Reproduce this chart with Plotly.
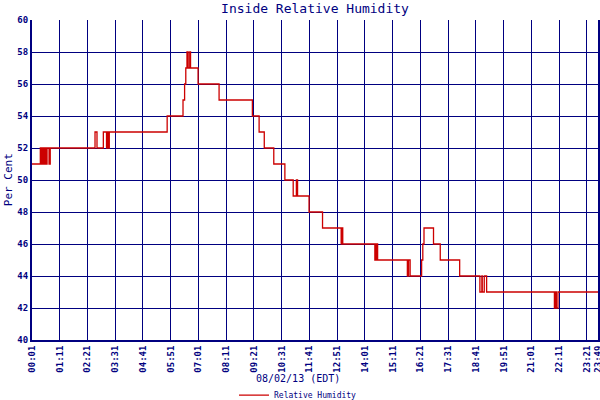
import plotly.graph_objects as go

# step readings of inside relative humidity, 08/02/13
times = ["00:01", "00:22", "00:24", "00:27", "00:30", "00:33", "00:36", "00:39", "00:44", "00:47",
         "02:40", "02:45", "03:01", "03:09", "03:12", "03:14", "03:16",
         "05:42", "06:22", "06:26", "06:29", "06:32", "06:35", "06:39", "06:41",
         "07:00", "07:53", "09:17", "09:34", "09:47", "10:11", "10:39",
         "11:00", "11:08", "11:11", "11:40", "12:14", "13:01", "13:03", "13:05",
         "14:26", "14:28", "14:30", "14:31", "14:33",
         "15:48", "15:51", "15:55", "16:24", "16:27", "16:30", "16:54", "17:11", "18:00",
         "18:51", "18:56", "18:57", "19:02", "19:08",
         "21:59", "22:02", "22:04", "22:08", "23:49"]
humidity = [51, 52, 51, 52, 51, 52, 51, 52, 51, 52,
            53, 52, 53, 52, 53, 52, 53,
            54, 55, 56, 57, 58, 57, 58, 57,
            56, 55, 54, 53, 52, 51, 50,
            49, 50, 49, 48, 47, 46, 47, 46,
            45, 46, 45, 46, 45,
            44, 45, 44, 45, 46, 47, 46, 45, 44,
            43, 44, 43, 44, 43,
            42, 43, 42, 43, 43]

tick_labels = ["00:01", "01:11", "02:21", "03:31", "04:41", "05:51", "07:01", "08:11",
               "09:21", "10:31", "11:41", "12:51", "14:01", "15:11", "16:21", "17:31",
               "18:41", "19:51", "21:01", "22:11", "23:21", "23:49"]

day = "2013-08-02 "
navy = "#000080"
mono = "DejaVu Sans Mono"

fig = go.Figure()
fig.add_trace(go.Scatter(
    x=[day + t for t in times], y=humidity,
    mode="lines", line=dict(color="#cc0000", width=1.3, shape="hv"),
    name="Relative Humidity"))

fig.update_layout(
    width=600, height=400,
    margin=dict(l=32, r=2, t=20, b=60, autoexpand=False),
    paper_bgcolor="white", plot_bgcolor="white",
    title=dict(text="Inside Relative Humidity", x=0.525, xanchor="center",
               y=0.978, yanchor="middle",
               font=dict(family=mono, size=13, color=navy)),
    showlegend=True,
    legend=dict(orientation="h", x=0.47, xanchor="center", y=-0.172, yanchor="middle",
                font=dict(family=mono, size=8, color=navy), itemwidth=30),
    annotations=[
        dict(text="08/02/13 (EDT)", xref="paper", yref="paper", x=0.47, y=-0.12,
             xanchor="center", yanchor="middle",
             showarrow=False, font=dict(family=mono, size=10, color=navy)),
        dict(text="Per Cent", xref="paper", yref="paper", x=-0.042, y=0.5,
             xanchor="center", yanchor="middle",
             textangle=-90, showarrow=False, font=dict(family=mono, size=11, color=navy)),
    ],
)

fig.update_xaxes(
    type="date", automargin=False,
    range=[day + times[0], day + times[-1]],
    tickmode="array", tickvals=[day + t for t in tick_labels], ticktext=tick_labels,
    tickangle=-90, ticklabeloverflow="allow",
    tickfont=dict(family=mono, size=9, color=navy, weight="bold"),
    showgrid=True, gridcolor=navy, gridwidth=1,
    showline=True, linecolor=navy, linewidth=2, ticks="", zeroline=False)

fig.update_yaxes(
    automargin=False,
    range=[40, 60], dtick=2, tick0=40,
    tickfont=dict(family=mono, size=9, color=navy, weight="bold"),
    showgrid=True, gridcolor=navy, gridwidth=1,
    showline=True, linecolor=navy, linewidth=2, mirror=True, ticks="", zeroline=False)

# page body has a default 8px margin; drop it so the chart fills the window
fig.write_html("out.html", config={"displayModeBar": False},
               post_script="document.body.style.margin='0';document.body.style.overflow='hidden';")
